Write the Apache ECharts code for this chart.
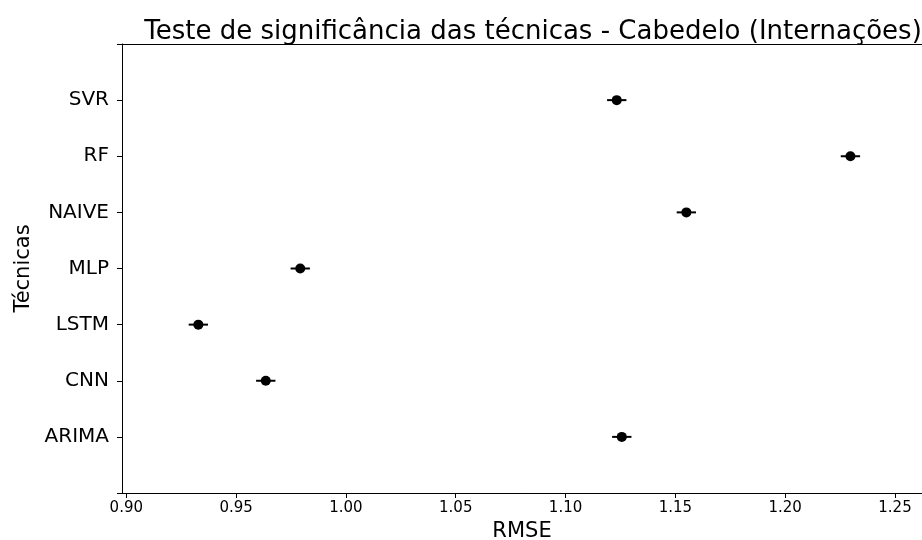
<!DOCTYPE html>
<html><head><meta charset="utf-8">
<script src="https://cdn.jsdelivr.net/npm/echarts@6/dist/echarts.min.js"></script>
<style>html,body{margin:0;padding:0;background:#fff;overflow:hidden}#c{width:922px;height:540px}</style>
</head><body><div id="c"></div>
<script>
var techniques = ['ARIMA', 'CNN', 'LSTM', 'MLP', 'NAIVE', 'RF', 'SVR'];
var rmse = [1.1256, 0.9635, 0.9328, 0.9792, 1.1550, 1.2297, 1.1233];
var errHalf = [0.0044, 0.0044, 0.0044, 0.0044, 0.0044, 0.0044, 0.0044];
var xTicks = [0.90, 0.95, 1.00, 1.05, 1.10, 1.15, 1.20, 1.25];

var FONT = 'DejaVu Sans';
var chart = echarts.init(document.getElementById('c'), null, {renderer: 'canvas', width: 922, height: 540});
var pts = rmse.map(function (v, i) { return [v, i]; });
var errs = rmse.map(function (v, i) { return [v - errHalf[i], v + errHalf[i], i]; });

chart.setOption({
  animation: false,
  backgroundColor: '#fff',
  textStyle: {fontFamily: FONT},
  title: {
    text: 'Teste de significância das técnicas - Cabedelo (Internações)',
    left: 528, textAlign: 'center', top: 14,
    textStyle: {fontFamily: FONT, fontSize: 26, fontWeight: 'normal', color: '#000'}
  },
  grid: {left: 122, top: 44, right: 0, bottom: 47, containLabel: false, outerBoundsMode: 'none'},
  xAxis: [{
    type: 'value', min: 0.89804, max: 1.26229, position: 'bottom',
    name: 'RMSE', nameLocation: 'middle', nameGap: 25,
    nameTextStyle: {fontFamily: FONT, fontSize: 21, color: '#000'},
    axisLine: {show: true, onZero: false, lineStyle: {color: '#000', width: 1}},
    axisTick: {show: true, length: 5, lineStyle: {color: '#000'}, customValues: xTicks},
    axisLabel: {show: true, fontFamily: FONT, fontSize: 15, color: '#000', margin: 8,
      customValues: xTicks, formatter: function (v) { return v.toFixed(2); }},
    splitLine: {show: false}
  }, {
    type: 'value', min: 0.89804, max: 1.26229, position: 'top',
    axisLine: {show: true, onZero: false, lineStyle: {color: '#000', width: 1}},
    axisTick: {show: false}, axisLabel: {show: false}, splitLine: {show: false}
  }],
  yAxis: {
    type: 'value', min: -1, max: 7, interval: 1,
    name: 'Técnicas', nameLocation: 'middle', nameGap: 88, nameRotate: 90,
    nameTextStyle: {fontFamily: FONT, fontSize: 21, color: '#000'},
    axisLine: {show: true, onZero: false, lineStyle: {color: '#000', width: 1}},
    axisTick: {show: true, length: 5, lineStyle: {color: '#000'}},
    axisLabel: {show: true, fontFamily: FONT, fontSize: 20, color: '#000', margin: 13,
      formatter: function (v) { return (v >= 0 && v < techniques.length) ? techniques[v] : ''; }},
    splitLine: {show: false}
  },
  series: [{
    type: 'custom',
    data: errs,
    renderItem: function (params, api) {
      var a = api.coord([api.value(0), api.value(2)]);
      var b = api.coord([api.value(1), api.value(2)]);
      return {type: 'line', shape: {x1: a[0], y1: a[1], x2: b[0], y2: b[1]},
        style: {stroke: '#000', lineWidth: 2}};
    },
    encode: {x: [0, 1], y: 2},
    z: 2
  }, {
    type: 'scatter',
    data: pts,
    symbol: 'circle', symbolSize: 10,
    itemStyle: {color: '#000', opacity: 1},
    z: 3
  }]
});
</script></body></html>
